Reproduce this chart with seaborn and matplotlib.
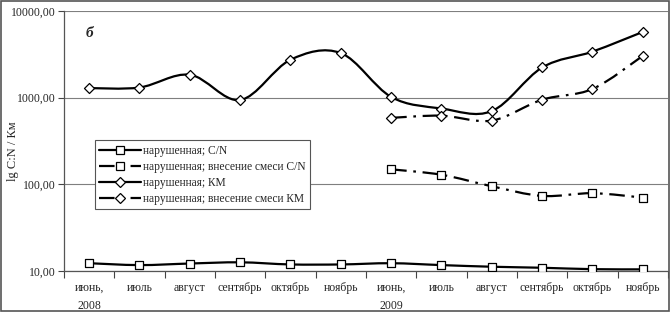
import numpy as np
import pandas as pd
import matplotlib
matplotlib.use('Agg')
import matplotlib.pyplot as plt
from matplotlib.path import Path
from matplotlib.patches import PathPatch, Rectangle
from matplotlib.lines import Line2D
from matplotlib.ticker import FixedLocator, NullFormatter
import seaborn as sns

# data
months = ['июнь,\n2008', 'июль', 'август', 'сентябрь', 'октябрь', 'ноябрь',
          'июнь,\n2009', 'июль', 'август', 'сентябрь', 'октябрь', 'ноябрь']
cn = [12.3, 11.7, 12.2, 12.6, 11.9, 11.9, 12.3, 11.7, 11.2, 10.9, 10.5, 10.45]
cn_mix = [149, 129, 95, 73.5, 79, 70.3]
km = [1290, 1310, 1840, 940, 2740, 3270, 1020, 750, 700, 2230, 3400, 5740]
km_mix = [585, 620, 544, 948, 1260, 3040]

labels = ['нарушенная; C/N', 'нарушенная; внесение смеси C/N',
          'нарушенная; КМ', 'нарушенная; внесение смеси КМ']

dashdot = (0, (7, 3, 1.2, 3))
series = [
    (labels[0], list(range(12)), cn, 's', '-'),
    (labels[1], list(range(6, 12)), cn_mix, 's', dashdot),
    (labels[2], list(range(12)), km, 'D', '-'),
    (labels[3], list(range(6, 12)), km_mix, 'D', dashdot),
]

sns.set_style('white')
plt.rcParams['font.family'] = ['Liberation Serif', 'DejaVu Serif']

fig = plt.figure(figsize=(6.7, 3.12), dpi=100)
ax = fig.add_axes([0.0955, 0.1314, 0.9015, 0.8333])
ax.set_yscale('log')


def smooth_path(xs, ys):
    # Excel-like smoothed line: cubic bezier segments in (x, log y) space
    lx = np.array(xs, dtype=float)
    ly = np.log10(np.array(ys, dtype=float))
    n = len(lx)
    verts = [(lx[0], ly[0])]
    codes = [Path.MOVETO]
    for i in range(n - 1):
        p0 = max(i - 1, 0)
        p3 = min(i + 2, n - 1)
        c1 = (lx[i] + (lx[i + 1] - lx[p0]) / 6, ly[i] + (ly[i + 1] - ly[p0]) / 6)
        c2 = (lx[i + 1] - (lx[p3] - lx[i]) / 6, ly[i + 1] - (ly[p3] - ly[i]) / 6)
        verts += [c1, c2, (lx[i + 1], ly[i + 1])]
        codes += [Path.CURVE4] * 3
    verts = [(vx, 10 ** vy) for vx, vy in verts]
    return Path(verts, codes)


handles = []
for name, xs, ys, mk, ls in series:
    patch = PathPatch(smooth_path(xs, ys), fill=False, edgecolor='black',
                      linewidth=1.6, linestyle=ls, zorder=2)
    ax.add_patch(patch)
    df = pd.DataFrame({'x': xs, 'y': ys})
    sns.scatterplot(data=df, x='x', y='y', marker=mk, s=34 if mk == 's' else 26,
                    facecolor='white', edgecolor='black', linewidth=0.9,
                    zorder=3, ax=ax, legend=False)
    handles.append(Line2D([], [], color='black', linewidth=1.6, linestyle=ls,
                          marker=mk, markersize=5.5 if mk == 's' else 5,
                          markerfacecolor='white', markeredgecolor='black',
                          markeredgewidth=0.9))

ax.set_xlim(-0.5, 11.5)
ax.set_ylim(10, 10000)
ax.set_xticks(range(12))
ax.set_xticklabels(months, fontsize=8.5, linespacing=1.6)
ax.xaxis.set_minor_locator(FixedLocator(np.arange(-0.5, 12, 1)))
ax.tick_params(axis='x', which='major', length=0, pad=8)
ax.tick_params(axis='x', which='minor', length=5, width=0.8, color='#444444',
               direction='out', bottom=True)
ax.set_yticks([10, 100, 1000, 10000])
ax.set_yticklabels(['10,00', '100,00', '1000,00', '10000,00'], fontsize=8.5)
ax.yaxis.set_minor_formatter(NullFormatter())
ax.tick_params(axis='y', which='minor', length=0)
ax.tick_params(axis='y', which='major', length=4, width=0.8, color='#444444',
               direction='out', left=True, pad=2)
ax.grid(axis='y', which='major', color='#7f7f7f', linewidth=0.8)
ax.set_xlabel('')
ax.set_ylabel('lg C:N / Км', fontsize=9)
ax.yaxis.set_label_coords(-0.074, 0.46)

for side in ['top', 'right']:
    ax.spines[side].set_visible(False)
for side in ['left', 'bottom']:
    ax.spines[side].set_color('#555555')
    ax.spines[side].set_linewidth(0.9)

ax.text(0.035, 0.915, 'б', transform=ax.transAxes, fontsize=11,
        fontweight='bold', fontstyle='italic', va='center', ha='left')

leg = ax.legend(handles, labels, loc='upper left', bbox_to_anchor=(0.051, 0.504),
                fontsize=8.3, frameon=True, fancybox=False, framealpha=1,
                edgecolor='#555555', handlelength=3.6, handletextpad=0.2,
                labelspacing=0.35, borderpad=0.4, borderaxespad=0)
leg.get_frame().set_linewidth(0.8)

fig.patches.append(Rectangle((0.001, 0.002), 0.997, 0.995, transform=fig.transFigure,
                             fill=False, edgecolor='#555555', linewidth=1.2))

fig.savefig('out.png', dpi=100)
